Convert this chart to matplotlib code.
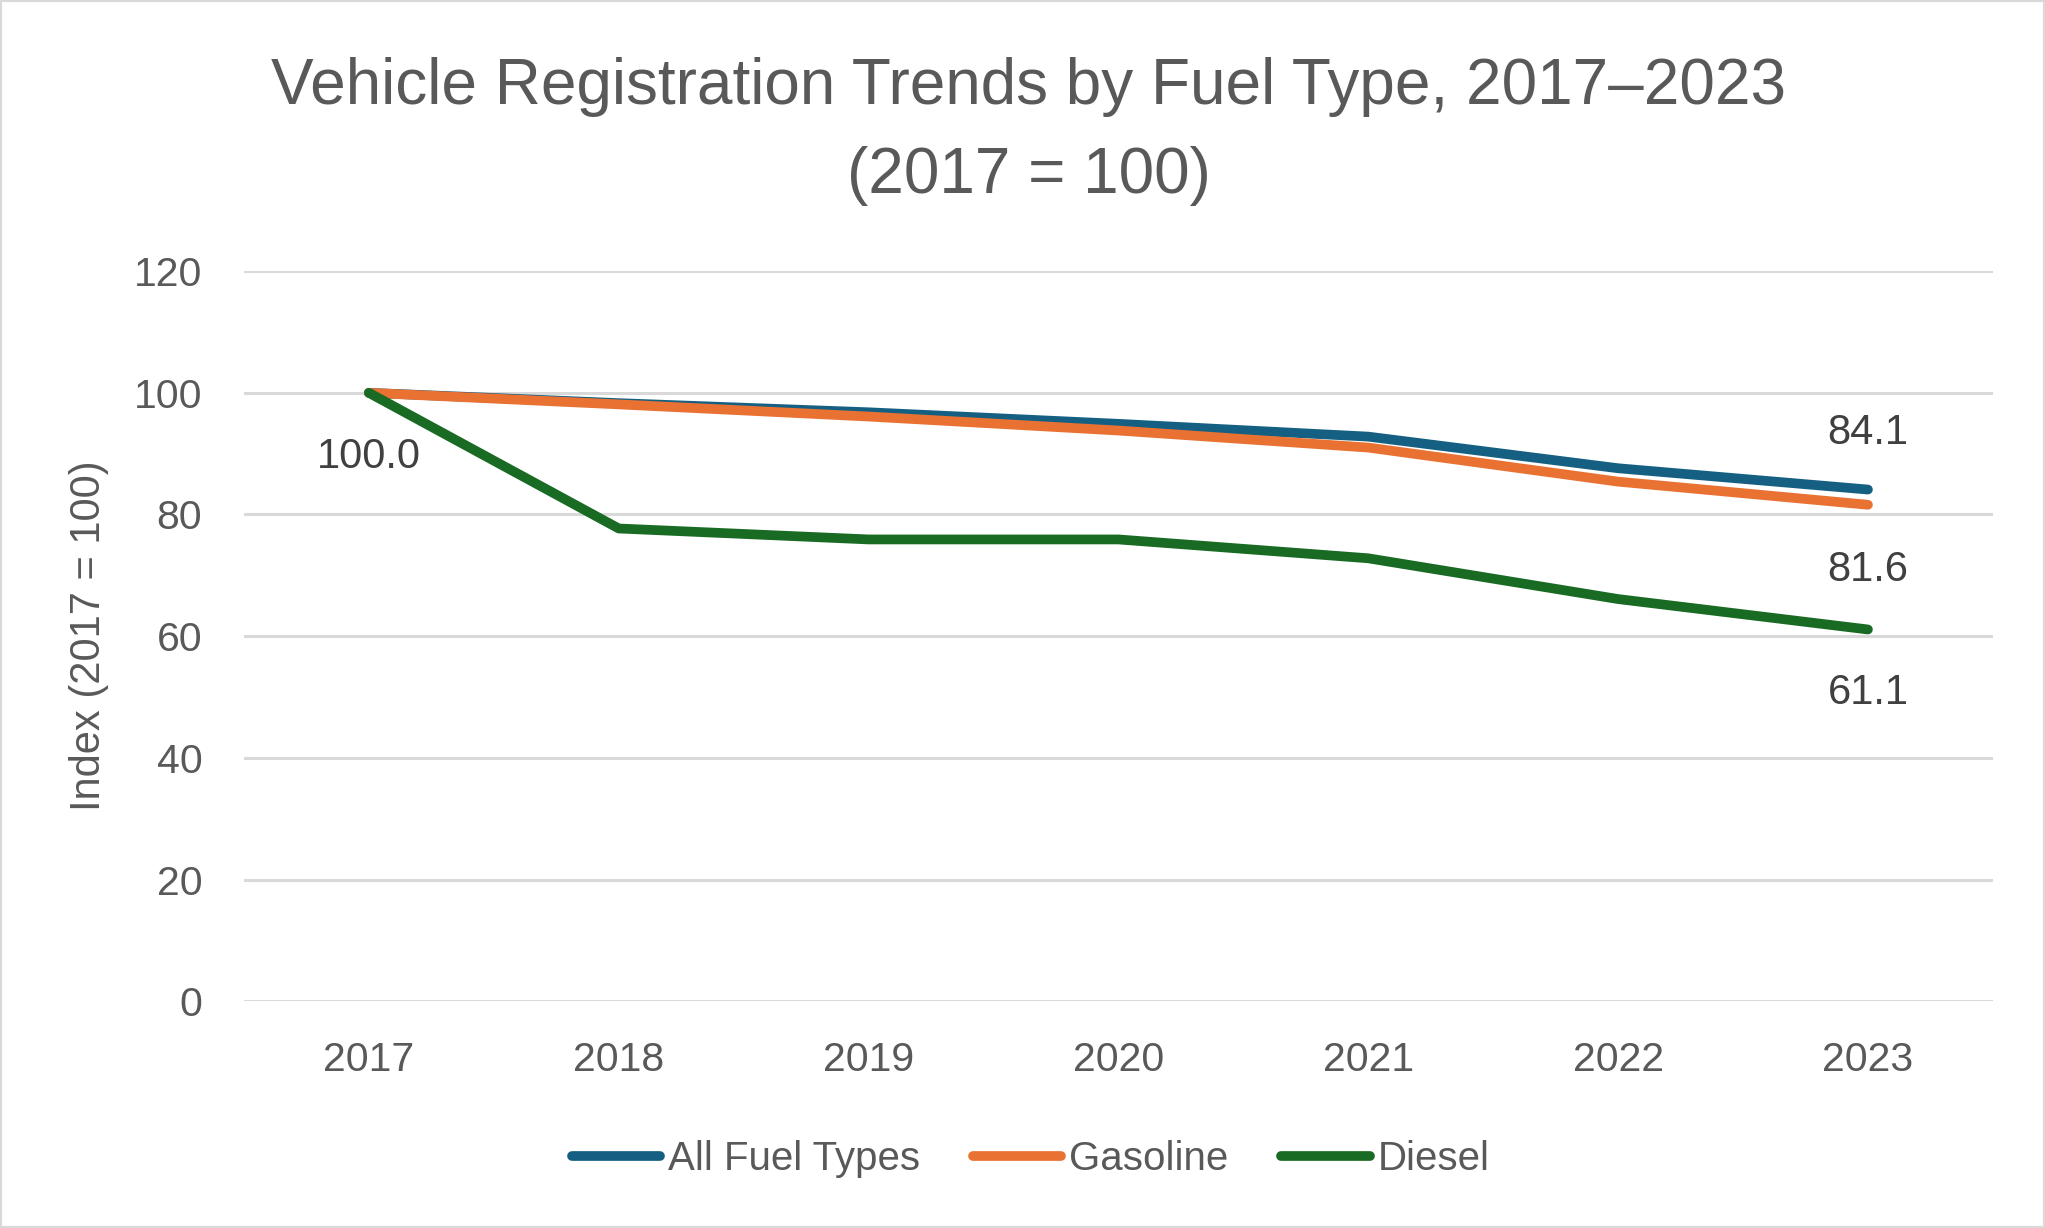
import matplotlib
matplotlib.use("Agg")
import matplotlib.pyplot as plt
from matplotlib.patches import Rectangle

years = ["2017", "2018", "2019", "2020", "2021", "2022", "2023"]
all_fuel = [100.0, 98.3, 96.8, 94.9, 92.8, 87.6, 84.1]
gasoline = [100.0, 98.1, 96.1, 93.8, 91.0, 85.4, 81.6]
diesel = [100.0, 77.7, 75.9, 75.9, 72.8, 66.1, 61.1]

series_names = ["All Fuel Types", "Gasoline", "Diesel"]
series_colors = ["#156082", "#E97132", "#196B24"]

text_col = "#595959"
grid_col = "#D9D9D9"
fam = ["Liberation Sans", "DejaVu Sans"]
plt.rcParams["font.family"] = fam

fig = plt.figure(figsize=(20.45, 12.28), dpi=100)
ax = fig.add_axes([0.1193, 0.1847, 0.8552, 0.5945])

x = range(len(years))
lines = []
for vals, name, col in zip([all_fuel, gasoline, diesel], series_names, series_colors):
    ln, = ax.plot(x, vals, color=col, lw=7, label=name,
                  solid_capstyle="round", solid_joinstyle="round")
    lines.append(ln)

ax.set_xlim(-0.5, len(years) - 0.5)
ax.set_ylim(0, 120)
ax.set_yticks(range(0, 121, 20))
ax.set_xticks(list(x))
ax.set_xticklabels(years)
ax.grid(axis="y", color=grid_col, lw=2.2)
ax.set_axisbelow(True)
for s in ax.spines.values():
    s.set_visible(False)
ax.tick_params(axis="both", length=0, labelsize=29.5, labelcolor=text_col)
ax.tick_params(axis="x", pad=29)
ax.tick_params(axis="y", pad=30)

ax.set_ylabel("Index (2017 = 100)", fontsize=30, color=text_col, labelpad=18)

# data labels
lbl = dict(ha="center", va="center", fontsize=30, color="#404040",
           textcoords="offset points")
ax.annotate(f"{all_fuel[0]:.1f}", (0, all_fuel[0]), xytext=(0, -46), **lbl)
ax.annotate(f"{all_fuel[-1]:.1f}", (6, all_fuel[-1]), xytext=(0, 41), **lbl)
ax.annotate(f"{gasoline[-1]:.1f}", (6, gasoline[-1]), xytext=(0, -47), **lbl)
ax.annotate(f"{diesel[-1]:.1f}", (6, diesel[-1]), xytext=(0, -45.5), **lbl)

fig.text(0.503, 0.929, "Vehicle Registration Trends by Fuel Type, 2017\u20132023",
         ha="center", va="center", fontsize=46, color=text_col)
fig.text(0.503, 0.857, "(2017 = 100)",
         ha="center", va="center", fontsize=46, color=text_col)

leg = fig.legend(handles=lines, loc="center", bbox_to_anchor=(0.504, 0.056),
                 ncol=3, frameon=False, handlelength=2.2, handletextpad=0.2,
                 columnspacing=1.3, prop={"size": 29})
for t in leg.get_texts():
    t.set_color(text_col)

fig.patches.append(Rectangle((0, 0), 1, 1, transform=fig.transFigure,
                             fill=False, edgecolor=grid_col, lw=3))

fig.savefig("out.png", dpi=100, facecolor="white")
